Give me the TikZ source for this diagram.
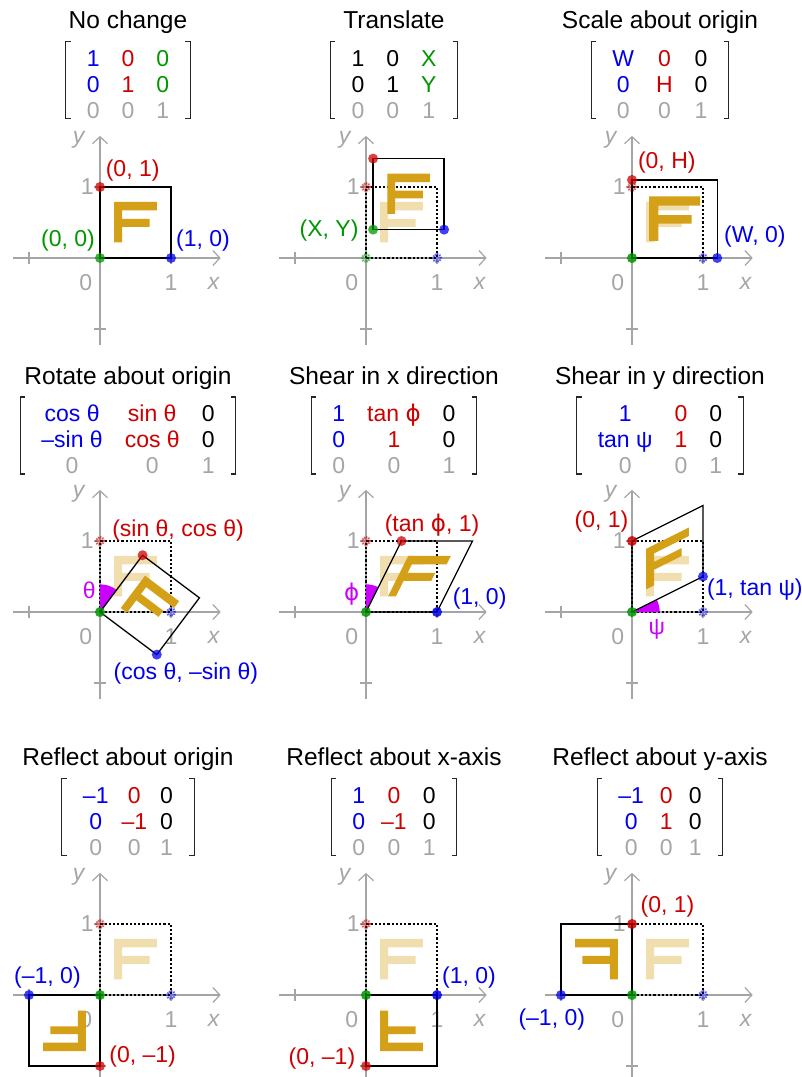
\documentclass[tikz,border=0pt]{standalone}
\usepackage{fontspec}
\setmainfont{Liberation Sans}
\newfontfamily\phifont{DejaVu Sans}
\usetikzlibrary{arrows.meta,positioning,matrix}
\definecolor{bluei}{RGB}{0,0,235}
\definecolor{redi}{RGB}{205,0,0}
\definecolor{greeni}{RGB}{0,150,0}
\definecolor{grayi}{RGB}{165,165,165}
\definecolor{goldi}{RGB}{212,160,23}
\definecolor{magentai}{RGB}{204,0,255}
\tikzset{
      panel/.style={shift={#1}, x=71pt, y=71pt},
      axisline/.style={
        draw=grayi,
        line width=1.2pt,
        -{Straight Barb[length=7pt,width=15pt]}
      },
      axtick/.style={draw=grayi, line width=1.2pt},
      axlabel/.style={
        text=grayi,
        inner sep=0pt,
        font=\fontsize{23}{23}\selectfont
      },
      ptitle/.style={
        inner sep=0pt,
        anchor=base,
        font=\fontsize{24.5}{25}\selectfont
      },
      mentry/.style={
        inner sep=0pt,
        text height=16.5pt,
        text depth=0pt,
        font=\fontsize{23}{23}\selectfont
      },
      tmatrix/.style n args={3}{
        matrix of nodes,
        nodes={mentry},
        inner sep=0pt,
        column sep=22pt,
        row sep=9.5pt,
        column 1/.style={nodes={text=#1}},
        column 2/.style={nodes={text=#2}},
        column 3/.style={nodes={text=#3}},
        row 3/.style={nodes={text=grayi}}
      },
      mbracket/.style={draw=black!85, line width=1.3pt},
      origsq/.style={draw=black, line width=2.2pt, dash pattern=on 2.2pt off 2pt},
      newsq/.style={draw=black, line width=1.3pt},
      letterF/.style={fill=goldi},
      ghostF/.style={fill=goldi, fill opacity=0.35},
      ptdot/.style={
        circle,
        fill=#1,
        fill opacity=0.75,
        inner sep=0pt,
        minimum size=10pt
      },
      olddot/.style={
        circle,
        draw=#1,
        fill=#1,
        draw opacity=0.6,
        fill opacity=0.25,
        line width=2pt,
        dash pattern=on 1.2pt off 1.2pt,
        inner sep=0pt,
        minimum size=8pt
      },
      ptlabel/.style={
        text=#1,
        inner sep=0pt,
        font=\fontsize{23}{23}\selectfont
      },
      wedge/.style={fill=magentai},
    }
\newcommand\axes[1]{%
  \draw[axisline] (-1.22,0) -- (1.7,0);
  \draw[axisline] (0,-1.22) -- (0,1.72);
  \foreach \t in {-1,1} {
    \draw[axtick] (\t,-0.09) -- (\t,0.09);
    \draw[axtick] (-0.09,\t) -- (0.09,\t);
  }
  \node[axlabel] (#1zero) at (-0.2,-0.35) {0};
  \node[axlabel] (#1xone) at (1,-0.35) {1};
  \node[axlabel] (#1yone) at (-0.18,1) {1};
  \node[axlabel, font=\fontsize{23}{23}\selectfont\itshape] (#1x) at (1.6,-0.36) {x};
  \node[axlabel, font=\fontsize{23}{23}\selectfont\itshape] (#1y) at (-0.3,1.66) {y};
}
\newcommand\brackets[1]{%
  \draw[mbracket] ([xshift=-16pt,yshift=8pt]#1.north west) -| ([xshift=-21pt]#1.south west) -- ++(5pt,0);
  \draw[mbracket] ([xshift=16pt,yshift=8pt]#1.north east) -| ([xshift=21pt]#1.south east) -- ++(-5pt,0);
}
\newcommand\drawF[1]{%
  \fill[#1] (0.2,0.22) -- (0.31,0.22) -- (0.31,0.44) -- (0.7,0.44) -- (0.7,0.55)
    -- (0.31,0.55) -- (0.31,0.67) -- (0.8,0.67) -- (0.8,0.79) -- (0.2,0.79) -- cycle;
}
\newcommand\olddots[1]{%
  \node[olddot=redi] (#1gr) at (0,1) {};
  \node[olddot=greeni] (#1gg) at (0,0) {};
  \node[olddot=bluei] (#1gb) at (1,0) {};
}
\newcommand\newdots[1]{%
  \node[ptdot=redi] (#1r) at (0,1) {};
  \node[ptdot=greeni] (#1g) at (0,0) {};
  \node[ptdot=bluei] (#1b) at (1,0) {};
}
\newcommand\unitsq{(0,0) -- (1,0) -- (1,1) -- (0,1) -- cycle}
\newcommand\phis{{\phifont ϕ}}

\begin{document}
\begin{tikzpicture}
  \useasboundingbox (0,0) rectangle (802pt,-1077pt);

  % no change
  \begin{scope}[panel={(100pt,-258pt)}]
    \axes{a}
    \node[ptitle] (ta) at (0.394,3.23) {No change};
    \matrix[tmatrix={bluei}{redi}{greeni}, below=21pt of ta.base] (ma) {
      1 & 0 & 0 \\
      0 & 1 & 0 \\
      0 & 0 & 1 \\
    };
    \brackets{ma}
    \draw[origsq] (0,0) rectangle (1,1);
    \drawF{letterF}
    \draw[newsq] \unitsq;
    \newdots{a}
    \node[ptlabel=redi] (alr) at (0.46,1.23) {(0, 1)};
    \node[ptlabel=greeni] (alg) at (-0.45,0.24) {(0, 0)};
    \node[ptlabel=bluei] (alb) at (1.45,0.24) {(1, 0)};
  \end{scope}

  % translate
  \begin{scope}[panel={(366pt,-258pt)}]
    \axes{b}
    \node[ptitle] (tb) at (0.394,3.23) {Translate};
    \matrix[tmatrix={black}{black}{greeni}, below=21pt of tb.base] (mb) {
      1 & 0 & X \\
      0 & 1 & Y \\
      0 & 0 & 1 \\
    };
    \brackets{mb}
    \draw[origsq] (0,0) rectangle (1,1);
    \drawF{ghostF}
    \olddots{b}
    \begin{scope}[shift={(0.1,0.4)}]
      \drawF{letterF}
      \draw[newsq] \unitsq;
      \newdots{b}
    \end{scope}
    \node[ptlabel=greeni] (blg) at (-0.52,0.39) {(X, Y)};
  \end{scope}

  % scale
  \begin{scope}[panel={(632pt,-258pt)}]
    \axes{c}
    \node[ptitle] (tc) at (0.394,3.23) {Scale about origin};
    \matrix[tmatrix={bluei}{redi}{black}, below=21pt of tc.base] (mc) {
      W & 0 & 0 \\
      0 & H & 0 \\
      0 & 0 & 1 \\
    };
    \brackets{mc}
    \draw[origsq] (0,0) rectangle (1,1);
    \drawF{ghostF}
    \olddots{c}
    \begin{scope}[xscale=1.2, yscale=1.1]
      \drawF{letterF}
      \draw[newsq] \unitsq;
      \newdots{c}
    \end{scope}
    \node[ptlabel=redi] (clr) at (0.49,1.34) {(0, H)};
    \node[ptlabel=bluei] (clb) at (1.73,0.3) {(W, 0)};
  \end{scope}

  % rotate
  \begin{scope}[panel={(100pt,-612pt)}]
    \axes{d}
    \node[ptitle] (td) at (0.394,3.21) {Rotate about origin};
    \matrix[tmatrix={bluei}{redi}{black}, below=21pt of td.base] (md) {
      cos θ & sin θ & 0 \\
      –sin θ & cos θ & 0 \\
      0 & 0 & 1 \\
    };
    \brackets{md}
    \draw[origsq] (0,0) rectangle (1,1);
    \drawF{ghostF}
    \olddots{d}
    \fill[wedge] (0,0) -- (90:0.39) arc[start angle=90, end angle=53.13, radius=0.39] -- cycle;
    \begin{scope}[cm={0.8,-0.6,0.6,0.8,(0,0)}]
      \drawF{letterF}
      \draw[newsq] \unitsq;
      \newdots{d}
    \end{scope}
    \node[ptlabel=magentai] (dla) at (-0.15,0.3) {θ};
    \node[ptlabel=redi] (dlr) at (1.1,1.15) {(sin θ, cos θ)};
    \node[ptlabel=bluei] (dlb) at (1.21,-0.87) {(cos θ, –sin θ)};
  \end{scope}

  % shear x
  \begin{scope}[panel={(366pt,-612pt)}]
    \axes{e}
    \node[ptitle] (te) at (0.394,3.21) {Shear in x direction};
    \matrix[tmatrix={bluei}{redi}{black}, below=21pt of te.base] (me) {
      1 & tan \phis & 0 \\
      0 & 1 & 0 \\
      0 & 0 & 1 \\
    };
    \brackets{me}
    \draw[origsq] (0,0) rectangle (1,1);
    \drawF{ghostF}
    \olddots{e}
    \fill[wedge] (0,0) -- (90:0.39) arc[start angle=90, end angle=63.43, radius=0.39] -- cycle;
    \begin{scope}[cm={1,0,0.5,1,(0,0)}]
      \drawF{letterF}
      \draw[newsq] \unitsq;
      \newdots{e}
    \end{scope}
    \node[ptlabel=magentai] (ela) at (-0.2,0.25) {\phis};
    \node[ptlabel=redi] (elr) at (0.93,1.23) {(tan \phis, 1)};
    \node[ptlabel=bluei] (elb) at (1.6,0.19) {(1, 0)};
  \end{scope}

  % shear y
  \begin{scope}[panel={(632pt,-612pt)}]
    \axes{f}
    \node[ptitle] (tf) at (0.394,3.21) {Shear in y direction};
    \matrix[tmatrix={bluei}{redi}{black}, below=21pt of tf.base] (mf) {
      1 & 0 & 0 \\
      tan ψ & 1 & 0 \\
      0 & 0 & 1 \\
    };
    \brackets{mf}
    \draw[origsq] (0,0) rectangle (1,1);
    \drawF{ghostF}
    \olddots{f}
    \fill[wedge] (0,0) -- (0:0.39) arc[start angle=0, end angle=26.57, radius=0.39] -- cycle;
    \begin{scope}[cm={1,0.5,0,1,(0,0)}]
      \drawF{letterF}
      \draw[newsq] \unitsq;
      \newdots{f}
    \end{scope}
    \node[ptlabel=magentai] (fla) at (0.35,-0.25) {ψ};
    \node[ptlabel=redi] (flr) at (-0.43,1.27) {(0, 1)};
    \node[ptlabel=bluei] (flb) at (1.73,0.32) {(1, tan ψ)};
  \end{scope}

  % reflect origin
  \begin{scope}[panel={(100pt,-995pt)}]
    \axes{g}
    \node[ptitle] (tg) at (0.394,3.23) {Reflect about origin};
    \matrix[tmatrix={bluei}{redi}{black}, column sep=13pt, below=21pt of tg.base] (mg) {
      –1 & 0 & 0 \\
      0 & –1 & 0 \\
      0 & 0 & 1 \\
    };
    \brackets{mg}
    \draw[origsq] (0,0) rectangle (1,1);
    \drawF{ghostF}
    \olddots{g}
    \begin{scope}[cm={-1,0,0,-1,(0,0)}]
      \drawF{letterF}
      \draw[newsq] \unitsq;
      \newdots{g}
    \end{scope}
    \node[ptlabel=bluei] (glb) at (-0.74,0.25) {(–1, 0)};
    \node[ptlabel=redi] (glr) at (0.6,-0.87) {(0, –1)};
  \end{scope}

  % reflect x-axis
  \begin{scope}[panel={(366pt,-995pt)}]
    \axes{h}
    \node[ptitle] (th) at (0.394,3.23) {Reflect about x-axis};
    \matrix[tmatrix={bluei}{redi}{black}, column sep=16pt, below=21pt of th.base] (mh) {
      1 & 0 & 0 \\
      0 & –1 & 0 \\
      0 & 0 & 1 \\
    };
    \brackets{mh}
    \draw[origsq] (0,0) rectangle (1,1);
    \drawF{ghostF}
    \olddots{h}
    \begin{scope}[cm={1,0,0,-1,(0,0)}]
      \drawF{letterF}
      \draw[newsq] \unitsq;
      \newdots{h}
    \end{scope}
    \node[ptlabel=bluei] (hlb) at (1.45,0.25) {(1, 0)};
    \node[ptlabel=redi] (hlr) at (-0.62,-0.89) {(0, –1)};
  \end{scope}

  % reflect y-axis
  \begin{scope}[panel={(632pt,-995pt)}]
    \axes{i}
    \node[ptitle] (ti) at (0.394,3.23) {Reflect about y-axis};
    \matrix[tmatrix={bluei}{redi}{black}, column sep=16pt, below=21pt of ti.base] (mi) {
      –1 & 0 & 0 \\
      0 & 1 & 0 \\
      0 & 0 & 1 \\
    };
    \brackets{mi}
    \draw[origsq] (0,0) rectangle (1,1);
    \drawF{ghostF}
    \olddots{i}
    \begin{scope}[cm={-1,0,0,1,(0,0)}]
      \drawF{letterF}
      \draw[newsq] \unitsq;
      \newdots{i}
    \end{scope}
    \node[ptlabel=redi] (ilr) at (0.5,1.24) {(0, 1)};
    \node[ptlabel=bluei] (ilb) at (-1.13,-0.34) {(–1, 0)};
  \end{scope}
\end{tikzpicture}
\end{document}
